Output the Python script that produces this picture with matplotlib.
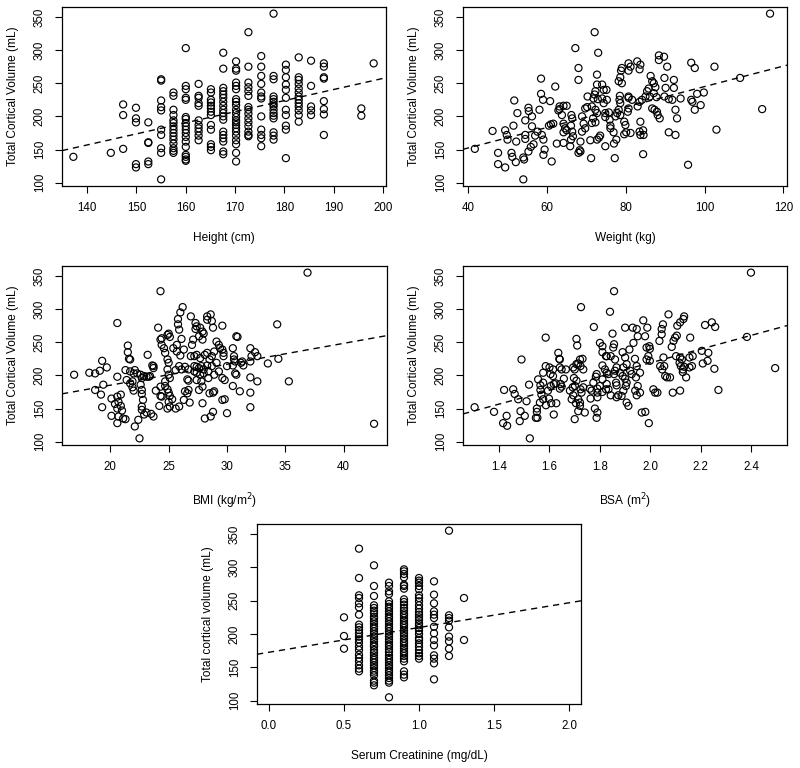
import matplotlib
matplotlib.use("Agg")
import matplotlib.pyplot as plt
import numpy as np

plt.rcParams['font.family'] = ['Liberation Sans', 'DejaVu Sans']

# ---------------- data ----------------
vol_label = "Total Cortical Volume (mL)"

# Panel 1: height (cm) levels and volumes at each level
height_levels = [137.2, 144.8, 147.3, 149.9, 152.4, 155.0, 157.5, 160.0, 162.6, 165.1,
                 167.6, 170.2, 172.7, 175.3, 177.8, 180.3, 182.9, 185.4, 188.0, 195.6, 198.1]
height_vols = [
    [139],
    [145],
    [218, 202, 151],
    [213, 197, 191, 128, 123],
    [191, 161, 160, 132, 128],
    [256, 254, 224, 214, 209, 180, 172, 152, 145, 105],
    [236, 231, 210, 202, 194, 190, 185, 180, 175, 170, 165, 159, 152, 148, 145],
    [303, 246, 241, 228, 225, 199, 196, 190, 185, 180, 175, 169, 162, 154, 142, 139, 135, 133],
    [249, 231, 228, 220, 216, 194, 187, 182, 177, 171, 164],
    [241, 236, 225, 221, 216, 212, 207, 202, 187, 180, 158, 154, 149],
    [296, 272, 243, 238, 233, 228, 222, 216, 210, 205, 200, 195, 177, 172, 167, 162, 147, 143],
    [283, 272, 269, 251, 246, 241, 226, 222, 217, 210, 205, 199, 194, 191, 187, 182, 177, 171, 164, 158, 145, 132],
    [327, 275, 251, 244, 238, 231, 214, 210, 204, 197, 191, 185, 177, 172, 170],
    [291, 275, 261, 249, 236, 230, 227, 200, 180, 172, 167, 155],
    [355, 261, 256, 230, 226, 222, 218, 215, 210, 205, 201, 197, 176, 171, 165],
    [278, 270, 259, 248, 240, 228, 210, 202, 186, 180, 137],
    [289, 259, 255, 249, 242, 236, 230, 225, 220, 215, 209, 202, 192],
    [284, 246, 215, 209, 202],
    [280, 275, 259, 257, 223, 211, 203, 172],
    [212, 201],
    [280],
]

# Panel 2: weight (kg) vs volume
weight_kg = [41.7, 46.2, 47.6, 47.6, 49.4, 49.8, 50.0, 49.4, 51.0, 51.2, 52.1, 51.5, 51.7, 52.5, 52.2,
             54.0, 54.0, 54.2, 54.5, 54.5, 54.5, 55.4, 55.3, 56.2, 56.2, 56.6, 55.9, 55.3, 57.0, 57.6,
             58.1, 58.5, 58.5, 59.0, 59.1, 58.7, 59.4, 59.1,
             60.5, 61.0, 61.6, 61.2, 60.8, 62.1, 63.2, 62.9, 63.2, 64.2, 65.0, 63.8, 64.2, 64.6, 64.2,
             65.0, 66.2, 66.4, 66.1, 66.4, 66.6, 66.1, 62.5, 64.2, 65.9,
             68.0, 68.0, 67.2, 68.5, 68.3, 68.0, 68.5, 68.9, 69.7, 70.2, 69.3, 68.9, 69.7, 70.3, 71.0, 71.2,
             72.1, 71.8, 72.3, 72.7, 72.1, 72.9, 71.4, 72.3, 72.7, 71.7, 71.4, 72.3, 73.0, 72.7, 73.2, 73.5, 72.7,
             74.0, 74.4, 75.1, 74.0, 74.4, 75.2, 74.8, 75.7, 74.8, 75.9, 76.1, 76.1, 76.9, 74.8, 77.2, 77.0, 77.6,
             77.4, 77.8, 78.2, 78.6, 78.4, 78.6, 78.5, 79.0, 78.2, 78.6, 79.0, 78.8, 79.9, 79.6, 80.1, 79.6,
             80.7, 80.7, 81.6, 80.7, 80.7, 81.2, 80.7, 80.5, 81.2, 82.9, 83.5, 83.7, 83.0, 83.5, 84.1, 85.0,
             85.4, 85.8, 83.7, 84.4, 83.5, 83.7, 84.5, 84.4,
             86.3, 86.7, 87.1, 87.5, 87.1, 86.1, 87.8, 86.7, 87.3, 87.9, 88.1, 88.6, 88.4, 89.7, 88.4, 90.5,
             89.8, 90.1, 89.8, 90.9, 91.8, 92.6, 92.2, 92.2, 93.0, 90.9, 92.6, 93.9,
             95.8, 96.6, 97.5, 96.6, 96.9, 97.5, 99.0, 98.1, 99.8, 102.5, 103.0, 109.0, 114.6, 116.6]
weight_vol = [151, 178, 145, 128, 179, 172, 165, 123, 145, 139, 131, 186, 224, 205, 162,
              105, 138, 135, 194, 172, 166, 208, 213, 200, 185, 158, 154, 147, 171, 177,
              210, 257, 234, 225, 165, 172, 150, 142,
              186, 188, 189, 132, 223, 245, 211, 209, 215, 216, 216, 202, 189, 182, 176,
              179, 202, 197, 186, 177, 170, 165, 159, 160, 155,
              273, 255, 303, 162, 149, 145, 147, 200, 212, 214, 189, 177, 182, 230, 164, 137,
              327, 227, 238, 248, 233, 226, 215, 210, 205, 197, 190, 191, 296, 263, 168, 171, 165,
              248, 240, 240, 227, 220, 225, 205, 206, 199, 195, 186, 182, 176, 155, 137, 159, 165,
              200, 205, 210, 202, 225, 220, 231, 250, 253, 259, 273, 269, 187, 192, 176, 173,
              228, 230, 225, 280, 269, 275, 212, 207, 175, 283, 271, 278, 215, 222, 225, 230,
              238, 242, 192, 179, 177, 172, 172, 143,
              261, 253, 250, 244, 235, 230, 229, 212, 210, 207, 202, 197, 292, 290, 285, 275,
              258, 243, 230, 226, 225, 210, 243, 255, 197, 176, 172, 227,
              127, 281, 273, 225, 222, 210, 217, 234, 236, 275, 180, 258, 211, 355]

# Panel 3: BMI (kg/m2) vs volume
bmi = [16.9, 18.2, 18.7, 19.1, 19.7, 19.3, 18.7, 19.4, 19.2, 19.3, 20.6, 20.6,
       20.1, 20.6, 20.9, 20.7, 20.4, 20.9, 20.6, 21.0, 20.1, 20.7, 21.1, 21.3, 20.6,
       21.5, 21.5, 21.6, 21.7, 21.3, 21.4, 21.7, 21.9, 22.0, 22.1, 22.3, 21.7, 21.9, 22.0,
       22.6, 22.7, 22.9, 23.1, 23.3, 23.4, 22.6, 22.7, 22.7, 22.8, 22.7, 22.7, 22.9, 22.4, 22.1, 22.5,
       23.1, 23.5, 23.7, 23.2, 23.7, 23.7, 23.6,
       24.3, 24.1, 24.3, 24.4, 24.4, 24.6, 24.3, 23.9, 24.3, 24.2, 24.4,
       24.9, 25.0, 25.1, 24.7, 24.9, 25.0, 24.9, 25.0, 25.1, 24.7, 24.7, 24.9, 25.0, 25.1, 25.3, 25.0, 24.9, 25.1,
       25.8, 26.0, 26.2, 25.8, 25.9, 25.7, 26.1, 26.3, 25.4, 25.7, 26.0, 25.9, 25.6, 26.1, 26.4, 26.7,
       26.6, 26.7, 26.4, 26.6, 26.7, 26.3, 25.9, 25.6,
       26.9, 27.3, 27.4, 27.7, 27.9, 28.0, 27.3, 27.1, 27.6, 27.9, 27.0, 26.9, 27.2, 27.4, 27.7, 27.2,
       27.4, 27.6, 27.8, 28.0, 28.0, 27.2, 27.4, 27.7, 27.4, 27.8, 27.9, 27.6, 26.8, 27.9,
       28.3, 28.3, 28.6, 28.7, 28.8, 28.1, 28.3, 28.5, 28.7, 28.9, 28.3, 28.7, 28.4, 28.4, 28.9, 28.5,
       28.8, 28.9, 28.1, 28.6, 28.8,
       29.1, 29.3, 29.4, 29.6, 29.7, 29.7, 29.6, 29.3, 29.6, 29.8, 29.6, 29.8, 30.0, 29.1, 30.0,
       30.5, 30.8, 30.9, 30.6, 30.6, 30.7, 30.5, 30.7, 30.8, 30.5, 31.2, 31.4, 31.3, 31.1,
       32.0, 32.4, 32.6, 32.1, 32.0, 32.0, 32.0, 32.0, 32.6, 33.5, 34.4, 34.3, 35.3, 36.9, 42.6]
bmi_vol = [201, 204, 203, 207, 212, 222, 178, 186, 171, 152, 279, 198,
           165, 168, 171, 160, 157, 154, 150, 147, 139, 138, 135, 134, 128,
           245, 235, 225, 224, 208, 193, 206, 191, 203, 208, 203, 188, 182, 177,
           201, 196, 199, 198, 198, 199, 186, 178, 172, 163, 153, 148, 141, 133, 123, 105,
           144, 142, 138, 231, 214, 211, 215,
           254, 272, 327, 256, 246, 241, 183, 177, 169, 154, 168,
           261, 263, 258, 234, 224, 219, 209, 201, 196, 191, 184, 179, 174, 169, 164, 160, 150, 153,
           285, 295, 303, 277, 269, 246, 255, 239, 241, 236, 230, 214, 208, 209, 213, 209,
           194, 192, 176, 173, 178, 163, 153, 150,
           289, 279, 274, 272, 266, 263, 270, 254, 259, 254, 246, 229, 229, 231, 226, 214,
           213, 211, 214, 209, 203, 206, 204, 201, 193, 191, 183, 178, 159, 158,
           289, 284, 292, 282, 272, 231, 234, 224, 229, 236, 215, 214, 206, 196, 201, 173,
           174, 176, 135, 138, 145,
           251, 246, 241, 239, 234, 229, 275, 206, 196, 193, 163, 164, 143, 219, 214,
           241, 259, 258, 229, 224, 221, 215, 203, 201, 184, 219, 215, 221, 176,
           241, 235, 229, 229, 221, 197, 174, 152, 191, 218, 225, 277, 191, 355, 127]

# Panel 4: BSA (m2) vs volume
bsa = [1.303, 1.380, 1.416, 1.432, 1.430, 1.420, 1.456, 1.462, 1.476, 1.485, 1.502, 1.489, 1.482,
       1.519, 1.509, 1.522, 1.546, 1.552, 1.550, 1.550, 1.564, 1.568, 1.575, 1.562, 1.586,
       1.555, 1.564, 1.575, 1.575, 1.585, 1.585, 1.600, 1.614, 1.604, 1.614, 1.605, 1.617, 1.625,
       1.594, 1.598, 1.607, 1.627, 1.617, 1.635, 1.641, 1.639, 1.641, 1.648, 1.644, 1.648, 1.641,
       1.665, 1.657, 1.694, 1.707, 1.714, 1.723, 1.700, 1.707, 1.710, 1.701, 1.692, 1.681, 1.697,
       1.707, 1.694, 1.688, 1.714, 1.721, 1.705, 1.700, 1.725, 1.721, 1.731, 1.734, 1.723, 1.734,
       1.727, 1.714, 1.721, 1.740, 1.763, 1.767, 1.760, 1.774, 1.784, 1.787, 1.776, 1.780, 1.787,
       1.790, 1.790, 1.790, 1.790, 1.800, 1.810, 1.810, 1.827, 1.824, 1.800, 1.810, 1.810, 1.824,
       1.827, 1.810, 1.820, 1.827, 1.834, 1.840, 1.856, 1.850, 1.856, 1.853, 1.843, 1.860, 1.866,
       1.860, 1.856, 1.864, 1.866, 1.834, 1.843, 1.873, 1.866, 1.900, 1.890, 1.900, 1.893, 1.906,
       1.880, 1.890, 1.900, 1.906, 1.903, 1.893, 1.886, 1.906, 1.913, 1.917, 1.920, 1.926, 1.930,
       1.946, 1.950, 1.933, 1.939, 1.946, 1.959, 1.943, 1.950, 1.940, 1.959, 1.946, 1.966, 1.980,
       1.994, 1.972, 1.979, 1.988, 1.985, 1.996, 1.998, 1.992, 1.985, 1.998, 2.012, 2.019, 2.028,
       2.036, 2.045, 2.045, 2.050, 2.039, 2.047, 2.055, 2.059, 2.066, 2.052, 2.072, 2.085, 2.092,
       2.098, 2.105, 2.089, 2.078, 2.107, 2.118, 2.131, 2.134, 2.102, 2.118, 2.125, 2.121, 2.129,
       2.134, 2.116, 2.129, 2.118, 2.142, 2.158, 2.155, 2.168, 2.155, 2.165, 2.204, 2.217, 2.227,
       2.208, 2.244, 2.257, 2.230, 2.254, 2.270, 2.383, 2.399, 2.495]
bsa_vol = [152, 145, 128, 124, 139, 178, 179, 172, 164, 146, 139, 224, 131,
           186, 161, 105, 136, 136, 150, 145, 178, 171, 164, 159, 155,
           194, 185, 189, 204, 214, 257, 212, 209, 202, 199, 184, 187, 188,
           177, 165, 158, 158, 141, 234, 224, 225, 212, 209, 187, 183, 180,
           209, 195, 212, 217, 218, 214, 209, 255, 245, 184, 182, 177, 196,
           192, 170, 164, 164, 159, 158, 134, 303, 224, 225, 209, 179, 182,
           174, 146, 154, 144, 165, 177, 180, 189, 198, 202, 273, 150, 136,
           144, 167, 174, 180, 184, 175, 194, 187, 179, 249, 244, 235, 229,
           229, 215, 209, 204, 202, 296, 327, 263, 247, 242, 229, 224, 212,
           207, 202, 189, 185, 179, 170, 170, 167, 272, 235, 227, 212, 217,
           204, 199, 195, 189, 184, 177, 169, 159, 154, 239, 207, 202, 272,
           270, 259, 249, 225, 214, 204, 197, 184, 177, 174, 170, 144, 145,
           128, 283, 259, 272, 242, 244, 240, 229, 224, 222, 179, 174, 174,
           252, 262, 270, 277, 214, 209, 214, 199, 197, 227, 292, 243, 252,
           257, 260, 174, 197, 275, 280, 285, 289, 229, 227, 224, 214, 209,
           213, 219, 205, 177, 197, 257, 227, 229, 212, 214, 237, 276, 222,
           218, 280, 273, 234, 210, 178, 258, 355, 211]

# Panel 5: serum creatinine (mg/dL) levels and volumes at each level
creat_levels = [0.5, 0.6, 0.7, 0.8, 0.9, 1.0, 1.1, 1.2, 1.3]
creat_vols = [
    [225, 197, 178],
    [328, 284, 258, 254, 246, 240, 229, 214, 210, 206, 201, 196, 192, 187, 181, 176, 169, 164, 159, 153, 148, 144],
    [303, 272, 257, 243, 239, 235, 231, 226, 223, 219, 215, 211, 208, 204, 200, 196, 192, 188, 184, 181,
     176, 172, 168, 164, 161, 157, 153, 149, 145, 142, 138, 130, 127, 123],
    [277, 272, 264, 260, 249, 245, 241, 238, 234, 230, 226, 223, 219, 215, 211, 208, 204, 200, 196, 192,
     188, 184, 181, 177, 173, 168, 164, 161, 157, 153, 149, 145, 142, 138, 134, 130, 127, 105],
    [297, 294, 290, 285, 274, 272, 268, 252, 248, 244, 239, 235, 231, 228, 224, 220, 216, 213, 209, 205,
     201, 197, 193, 189, 186, 182, 178, 174, 171, 167, 163, 159, 144, 139, 135],
    [284, 280, 277, 272, 267, 258, 254, 249, 243, 238, 233, 229, 225, 221, 216, 213, 209, 205, 200, 194,
     191, 186, 181, 176, 171, 167, 163],
    [279, 259, 246, 234, 229, 224, 211, 201, 191, 183, 168, 163, 156, 132],
    [355, 228, 224, 220, 210, 196, 189, 178, 167],
    [254, 191],
]

# dashed least-squares lines (intercept, slope) per panel
fit_intercept = [-77.3, 90.6, 122.1, 11.5, 172.6]
fit_slope = [1.673, 1.544, 3.156, 103.7, 37.1]

# axis text
x_labels = ["Height (cm)", "Weight (kg)", "BMI (kg/m$^2$)", "BSA (m$^2$)", "Serum Creatinine (mg/dL)"]
y_labels = [vol_label, vol_label, vol_label, vol_label, "Total cortical volume (mL)"]
x_ticks = [[140, 150, 160, 170, 180, 190, 200],
           [40, 60, 80, 100, 120],
           [20, 25, 30, 35, 40],
           [1.4, 1.6, 1.8, 2.0, 2.2, 2.4],
           [0.0, 0.5, 1.0, 1.5, 2.0]]
x_ticklabels = [["140", "150", "160", "170", "180", "190", "200"],
                ["40", "60", "80", "100", "120"],
                ["20", "25", "30", "35", "40"],
                ["1.4", "1.6", "1.8", "2.0", "2.2", "2.4"],
                ["0.0", "0.5", "1.0", "1.5", "2.0"]]
y_ticks = [100, 150, 200, 250, 300, 350]

# ---------------- build series ----------------
h_x, h_y = [], []
for lev, vs in zip(height_levels, height_vols):
    h_x += [lev] * len(vs)
    h_y += vs
c_x, c_y = [], []
for lev, vs in zip(creat_levels, creat_vols):
    c_x += [lev] * len(vs)
    c_y += vs

series = [(h_x, h_y), (weight_kg, weight_vol), (bmi, bmi_vol), (bsa, bsa_vol), (c_x, c_y)]

# ---------------- layout ----------------
W, H = 800, 768
boxes = [(62, 7, 386, 186), (463, 7, 787, 186),
         (62, 266, 387, 445), (463, 266, 787, 445),
         (257, 524, 581, 704)]
xlims = [(134.9, 200.6), (38.7, 120.9), (15.86, 43.71), (1.257, 2.542), (-0.08, 2.08)]

fig = plt.figure(figsize=(W / 100, H / 100), dpi=100)
fig.patch.set_facecolor('white')

for i, (l, t, r, b) in enumerate(boxes):
    ax = fig.add_axes([l / W, 1 - b / H, (r - l) / W, (b - t) / H])
    x, y = series[i]
    ax.scatter(x, y, s=26, facecolors='none', edgecolors='black', linewidths=0.85, zorder=3)
    xs = np.array(xlims[i])
    ax.plot(xs, fit_intercept[i] + fit_slope[i] * xs, color='black', lw=1.0,
            linestyle=(0, (4.5, 3.5)), zorder=2)
    ax.set_xlim(*xlims[i])
    ax.set_ylim(95, 365)
    ax.set_xticks(x_ticks[i])
    ax.set_xticklabels(x_ticklabels[i])
    ax.set_yticks(y_ticks)
    ax.set_yticklabels([str(v) for v in y_ticks])
    ax.tick_params(direction='out', length=5.2, width=0.8, labelsize=8.3, pad=6.5, colors='black')
    for lab in ax.get_yticklabels():
        lab.set_rotation(90)
        lab.set_va('center')
    for sp in ax.spines.values():
        sp.set_linewidth(0.9)
        sp.set_color('black')
    ax.set_xlabel(x_labels[i], fontsize=8.6, labelpad=13)
    ax.set_ylabel(y_labels[i], fontsize=8.6, labelpad=10.5)

fig.savefig("out.png", dpi=100, facecolor='white')
